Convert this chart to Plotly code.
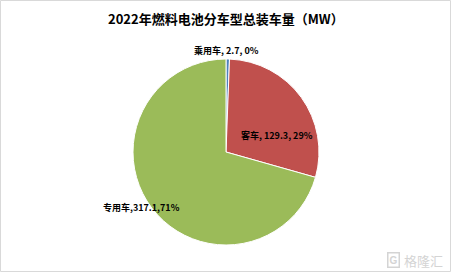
import plotly.graph_objects as go

title_text = "2022年燃料电池分车型总装车量（MW）"
categories = ["乘用车", "客车", "专用车"]
values = [2.7, 129.3, 317.1]
pct_labels = ["0%", "29%", "71%"]
colors = ["#4F81BD", "#C0504D", "#9BBB59"]

W, H = 453, 274
cx, cy, r = 226, 152, 93

fig = go.Figure(go.Pie(
    labels=categories, values=values, sort=False, direction="clockwise",
    rotation=0, textinfo="none", hoverinfo="label+value+percent",
    marker=dict(colors=colors, line=dict(color="white", width=1)),
    domain=dict(x=[(cx - r) / W, (cx + r) / W], y=[(H - cy - r) / H, (H - cy + r) / H]),
    showlegend=False,
))

label_pos = [(226, 50), (277, 135), (141, 207)]
seps = [", ", ", ", ","]
anns = []
for cat, v, p, sep, (px, py) in zip(categories, values, pct_labels, seps, label_pos):
    anns.append(dict(
        x=px / W, y=1 - py / H, xref="paper", yref="paper", showarrow=False,
        text=f"<b>{cat}{sep}{v}{sep}{p}</b>",
        font=dict(family="Noto Sans CJK SC, Liberation Sans", size=9, color="#000000"),
        xanchor="center", yanchor="middle",
    ))
anns.append(dict(
    x=226 / W, y=1 - 18 / H, xref="paper", yref="paper", showarrow=False,
    text=f"<b>{title_text}</b>",
    font=dict(family="Noto Sans CJK SC, Liberation Sans", size=13, color="#000000"),
    xanchor="center", yanchor="middle",
))
anns.append(dict(
    x=445 / W, y=1 - 260 / H, xref="paper", yref="paper", showarrow=False,
    text="格隆汇",
    font=dict(family="Noto Sans CJK SC", size=13, color="#D4D4D4"),
    xanchor="right", yanchor="middle",
))
anns.append(dict(
    x=393 / W, y=1 - 260 / H, xref="paper", yref="paper", showarrow=False,
    text="<b>G</b>", borderwidth=1.5, bordercolor="#D4D4D4", borderpad=1,
    font=dict(family="Liberation Sans", size=10, color="#D4D4D4"),
    xanchor="center", yanchor="middle",
))

fig.update_layout(
    width=W, height=H, margin=dict(l=0, r=0, t=0, b=0),
    paper_bgcolor="white", plot_bgcolor="white",
    annotations=anns,
    shapes=[dict(type="rect", xref="paper", yref="paper",
                 x0=0.5 / W, y0=1 - 271.5 / H, x1=450.5 / W, y1=1 - 0.5 / H,
                 line=dict(color="#D9D9D9", width=1))],
)

fig.write_html("out.html")
